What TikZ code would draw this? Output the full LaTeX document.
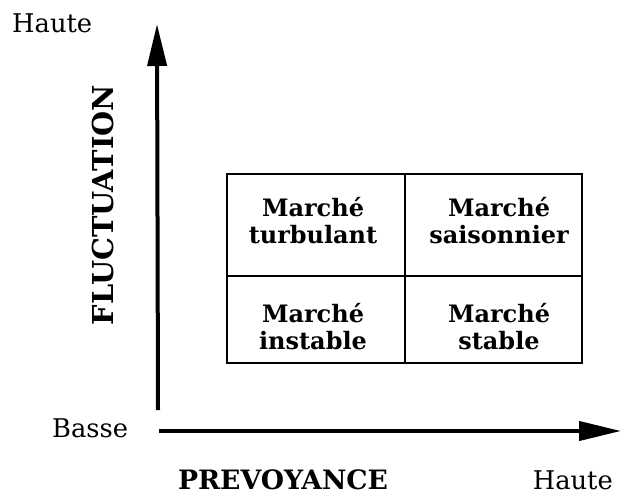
\documentclass[tikz,border=0pt]{standalone}
\usepackage{fontspec}
\setmainfont{DejaVu Serif}
\usetikzlibrary{arrows.meta}
\newlength\tmpwd
\AtBeginDocument{%
\settowidth\tmpwd{\normalfont\fontsize{10}{12}\selectfont Haute}%
\pgfmathsetmacro\labsize{10*80/\tmpwd}\global\let\labsize\labsize
\settowidth\tmpwd{\normalfont\fontsize{10}{12}\selectfont\bfseries PREVOYANCE}%
\pgfmathsetmacro\pvsize{10*210/\tmpwd}\global\let\pvsize\pvsize
\settowidth\tmpwd{\normalfont\fontsize{10}{12}\selectfont\bfseries FLUCTUATION}%
\pgfmathsetmacro\flsize{10*240/\tmpwd}\global\let\flsize\flsize
\settowidth\tmpwd{\normalfont\fontsize{10}{12}\selectfont\bfseries Marché}%
\pgfmathsetmacro\cellsize{10*102/\tmpwd}\global\let\cellsize\cellsize
}
\tikzset{
  lbl/.style={font=\fontsize{\labsize}{\labsize}\selectfont, inner sep=0pt},
  pvtitle/.style={font=\fontsize{\pvsize}{\pvsize}\selectfont\bfseries, inner sep=0pt},
  fltitle/.style={font=\fontsize{\flsize}{\flsize}\selectfont\bfseries, inner sep=0pt},
  cell/.style={font=\fontsize{\cellsize}{27}\selectfont\bfseries, align=center, inner sep=0pt},
  axis/.style={line width=4pt, -{Triangle[length=42pt,width=19pt]}},
  gridline/.style={line width=2pt}}
\begin{document}
\begin{tikzpicture}[x=1pt,y=-1pt]
\useasboundingbox (0,0) rectangle (621,496);
% axes
\coordinate (o) at (158,410);
\coordinate (ytop) at (157,24);
\coordinate (xs) at (159,431);
\coordinate (xe) at (621,431);
\draw[axis] (o) -- (ytop);
\draw[axis] (xs) -- (xe);
% grid
\coordinate (g1) at (227,174);
\coordinate (g2) at (582,363);
\draw[gridline] (g1) rectangle (g2);
\coordinate (vt) at (405,174);
\coordinate (vb) at (405,363);
\coordinate (hl) at (227,276);
\coordinate (hr) at (582,276);
\draw[gridline] (vt) -- (vb);
\draw[gridline] (hl) -- (hr);
% cells
\node[cell] (c1) at (313,221) {Marché\\turbulant};
\node[cell] (c2) at (499,221) {Marché\\saisonnier};
\node[cell] (c3) at (313,327) {Marché\\instable};
\node[cell] (c4) at (499,327) {Marché\\stable};
% labels
\node[lbl, anchor=base west] (hy) at (12,32) {Haute};
\node[lbl, anchor=base west] (bs) at (52,437) {Basse};
\node[lbl, anchor=base east] (hx) at (613,489) {Haute};
\node[pvtitle, anchor=base] (pv) at (283,489) {PREVOYANCE};
\node[fltitle, rotate=90, anchor=base] (fl) at (113,205) {FLUCTUATION};
\end{tikzpicture}
\end{document}
